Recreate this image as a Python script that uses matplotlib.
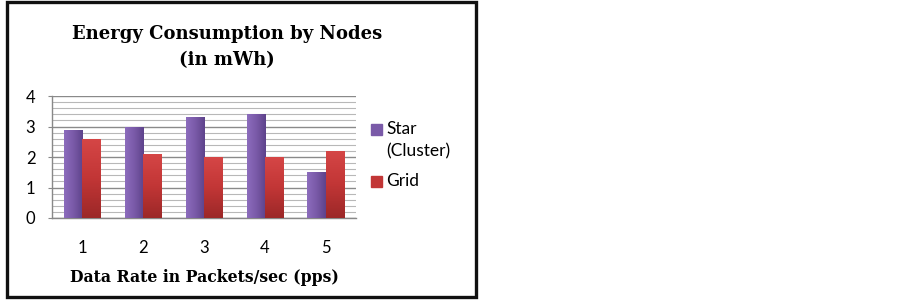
import numpy as np
import matplotlib.pyplot as plt
import matplotlib.patches as mpatches
from matplotlib.colors import LinearSegmentedColormap
from matplotlib.ticker import MultipleLocator

rates = [1, 2, 3, 4, 5]
star = [2.9, 3.0, 3.3, 3.4, 1.5]
grid = [2.6, 2.1, 2.0, 2.0, 2.2]
series_names = ["Star\n(Cluster)", "Grid"]
series_colors = ["#7a5aa8", "#c23636"]

purple_cmap = LinearSegmentedColormap.from_list("p", ["#8c6cbd", "#7a5aa8", "#5e438b"])
red_cmap = LinearSegmentedColormap.from_list("r", ["#9c2828", "#c23636", "#d54646"])

fig = plt.figure(figsize=(9.03, 3.01), dpi=100)

# outer frame
fig.patches.append(mpatches.Rectangle((7 / 903, 4 / 301), 469 / 903, 295 / 301,
                                      transform=fig.transFigure, fill=False,
                                      edgecolor="#111111", linewidth=2.4))

ax = fig.add_axes([52 / 903, 83 / 301, 304 / 903, 122 / 301])

x = np.array(rates)
w = 0.3
b1 = ax.bar(x - w / 2, star, w, color=series_colors[0], zorder=3)
b2 = ax.bar(x + w / 2, grid, w, color=series_colors[1], zorder=3)

# gradient fills clipped to each bar
hgrad = np.linspace(0, 1, 64).reshape(1, -1)
vgrad = np.linspace(0, 1, 64).reshape(-1, 1)
for bars, cmap, g in [(b1, purple_cmap, hgrad), (b2, red_cmap, vgrad)]:
    for p in bars:
        x0, y0 = p.get_x(), p.get_y()
        im = ax.imshow(g, cmap=cmap, aspect="auto", origin="lower",
                       extent=(x0, x0 + p.get_width(), y0, y0 + p.get_height()),
                       zorder=4)
        im.set_clip_path(p)

ax.set_xlim(0.5, 5.5)
ax.set_ylim(0, 4)
ax.yaxis.set_major_locator(MultipleLocator(1))
ax.yaxis.set_minor_locator(MultipleLocator(0.2))
ax.grid(True, which="major", axis="y", color="#8a8a8a", linewidth=1.0, zorder=0)
ax.grid(True, which="minor", axis="y", color="#b8b8b8", linewidth=0.8, zorder=0)
ax.set_axisbelow(True)

for s in ["top", "right"]:
    ax.spines[s].set_visible(False)
for s in ["left", "bottom"]:
    ax.spines[s].set_color("#888888")
    ax.spines[s].set_linewidth(1.0)

ax.set_xticks(rates)
ax.tick_params(axis="x", length=0, pad=16, labelsize=12)
ax.tick_params(axis="y", which="major", length=3, color="#888888", pad=9, labelsize=12)
ax.tick_params(axis="y", which="minor", length=0)
for lab in ax.get_xticklabels() + ax.get_yticklabels():
    lab.set_family("Lato")

ax.set_xlabel("Data Rate in Packets/sec (pps)", family="DejaVu Serif",
              fontweight="bold", fontsize=11.3, labelpad=9)

fig.text(227 / 903, 1 - 47 / 301, "Energy Consumption by Nodes\n(in mWh)",
         ha="center", va="center", family="DejaVu Serif", fontweight="bold",
         fontsize=13, linespacing=1.6)

# legend: square aligned with the first line of each label
leg_tops = [124, 176]
for name, col, top in zip(series_names, series_colors, leg_tops):
    fig.patches.append(mpatches.Rectangle((371 / 903, 1 - (top + 11) / 301), 11 / 903, 11 / 301,
                                          transform=fig.transFigure, color=col))
    fig.text(386 / 903, 1 - (top - 3) / 301, name, ha="left", va="top",
             family="Lato", fontsize=12.5, linespacing=1.5)

fig.savefig("out.png", dpi=100)
